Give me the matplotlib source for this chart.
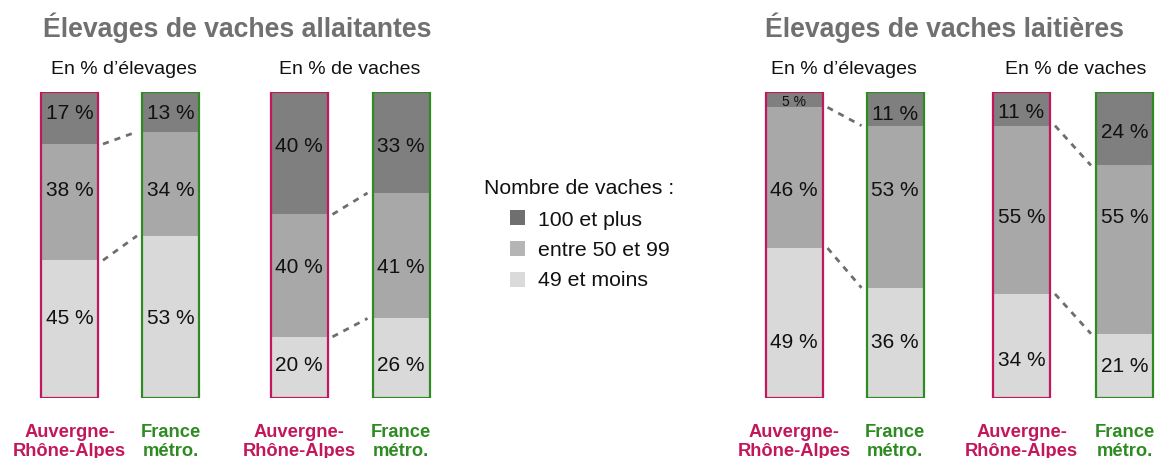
import matplotlib
matplotlib.use("Agg")
import matplotlib.pyplot as plt
from matplotlib.patches import Rectangle

plt.rcParams['font.family'] = ['Liberation Sans', 'DejaVu Sans']

# ---------------- data ----------------
categories = ["49 et moins", "entre 50 et 99", "100 et plus"]   # bottom -> top
regions = ["Auvergne-\nRhône-Alpes", "France\nmétro."]

# each panel: values per region, ordered [49 et moins, 50-99, 100+]
allait_elevages = {"AURA": [45, 38, 17], "FR": [53, 34, 13]}
allait_vaches   = {"AURA": [20, 40, 40], "FR": [26, 41, 33]}
lait_elevages   = {"AURA": [49, 46, 5],  "FR": [36, 53, 11]}
lait_vaches     = {"AURA": [34, 55, 11], "FR": [21, 55, 24]}

group_titles = ["Élevages de vaches allaitantes", "Élevages de vaches laitières"]
panel_titles = ["En % d’élevages", "En % de vaches"]
legend_title = "Nombre de vaches :"

# ---------------- style / layout ----------------
W, H = 1156, 458
colors = ["#d9d9d9", "#a8a8a8", "#7f7f7f"]
legend_colors = ["#dadada", "#b5b5b5", "#6f6f6f"]
edge_cols = ["#c2185b", "#2e8b22"]
title_col = "#707070"
conn_col = "#6e6e6e"

bar_px = 57
bottom_px, top_px = 398, 92
panels = [
    (allait_elevages, (69.5, 170.5)),
    (allait_vaches, (299, 401)),
    (lait_elevages, (794, 895)),
    (lait_vaches, (1021.5, 1124.5)),
]
# label vertical positions (in % units), per panel, per bar [bottom, mid, top]
label_pos = [
    ([26.0, 67.8, 93.0], [26.0, 67.8, 93.0]),
    ([10.6, 42.7, 82.2], [10.6, 42.7, 82.2]),
    ([18.2, 67.8, 96.6], [18.2, 67.8, 92.7]),
    ([12.3, 59.0, 93.3], [10.4, 59.0, 86.8]),
]

fig = plt.figure(figsize=(W / 100, H / 100), dpi=100)

for pi, (data, (c0, c1)) in enumerate(panels):
    sp = c1 - c0
    left = (c0 - 0.5 * sp) / W
    ax = fig.add_axes([left, (H - bottom_px) / H, 2 * sp / W, (bottom_px - top_px) / H])
    ax.set_xlim(-0.5, 1.5)
    ax.set_ylim(0, 100)
    ax.axis("off")
    bw = bar_px / sp
    series = [data["AURA"], data["FR"]]
    cums = []
    for xi, vals in enumerate(series):
        b = 0
        cum = []
        for k, v in enumerate(vals):
            ax.bar(xi, v, bottom=b, width=bw, color=colors[k], edgecolor="none", zorder=1)
            small = v < 8
            ax.text(xi, label_pos[pi][xi][k], f"{v} %", ha="center", va="center",
                    fontsize=10 if small else 15, color="#111111", zorder=3)
            b += v
            cum.append(b)
        cums.append(cum)
        ax.bar(xi, b, width=bw, fill=False, edgecolor=edge_cols[xi], linewidth=1.6, zorder=2)
        # region label under bar
        ax.text(xi, -8.6, regions[xi], ha="center", va="top", fontsize=13.2,
                fontweight="bold", color=edge_cols[xi], linespacing=1.12, clip_on=False)
    gap = 5 / sp
    for k in range(2):
        ax.plot([bw / 2 + gap, 1 - bw / 2 - gap], [cums[0][k], cums[1][k]],
                color=conn_col, lw=2, linestyle=(0, (2.2, 2.2)), zorder=2)

# titles
fig.text(237.5 / W, 1 - 28 / H, group_titles[0], ha="center", va="center",
         fontsize=19.2, fontweight="bold", color=title_col)
fig.text(944.5 / W, 1 - 28 / H, group_titles[1], ha="center", va="center",
         fontsize=19.2, fontweight="bold", color=title_col)
for x, t in [(124, panel_titles[0]), (350, panel_titles[1]),
             (844, panel_titles[0]), (1076, panel_titles[1])]:
    fig.text(x / W, 1 - 69 / H, t, ha="center", va="center", fontsize=14, color="#111111")

# legend
fig.text(484 / W, 1 - 189 / H, legend_title, ha="left", va="center", fontsize=15.3, color="#111111")
for i, (cat, y) in enumerate(zip(categories[::-1], [218, 248, 279])):
    col = legend_colors[::-1][i]
    fig.patches.append(Rectangle(((510) / W, 1 - (y + 7.5) / H), 15 / W, 15 / H,
                                 transform=fig.transFigure, facecolor=col, edgecolor="none"))
    fig.text(538 / W, 1 - (y + 2) / H, cat, ha="left", va="center", fontsize=15.3, color="#111111")

fig.savefig("out.png", dpi=100)
